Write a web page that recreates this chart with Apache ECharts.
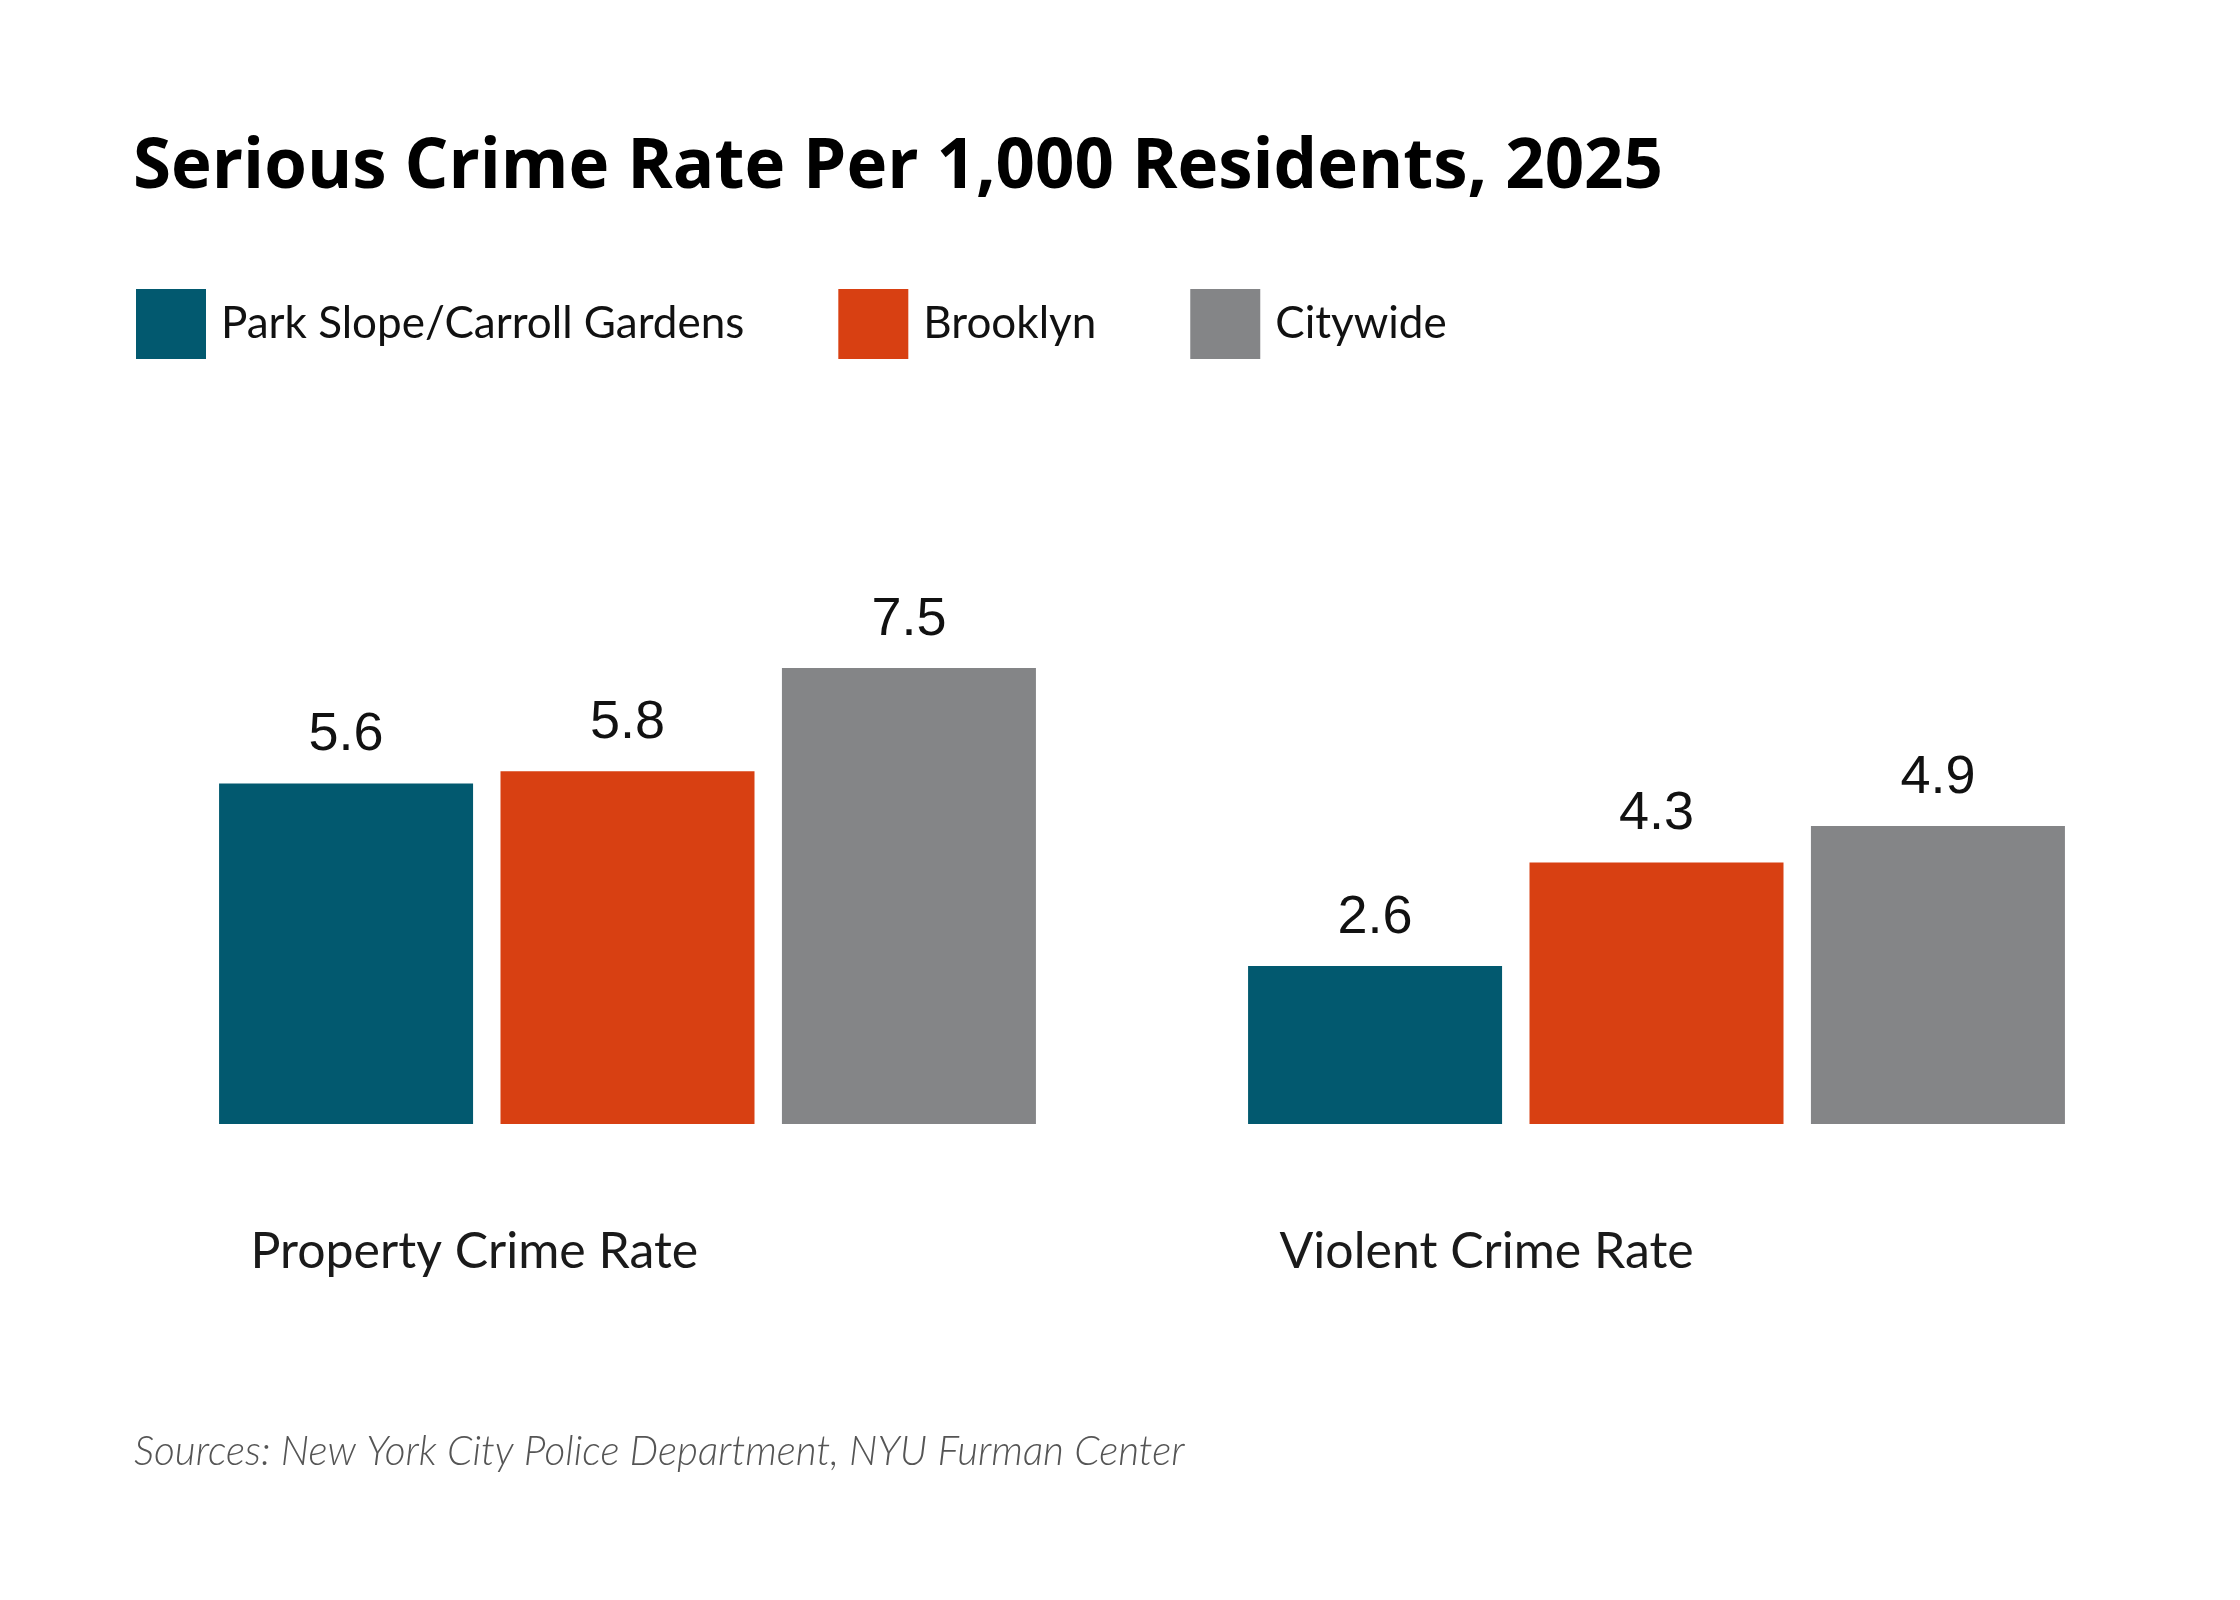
<!doctype html>
<html lang="en">
  <head>
    <meta charset="UTF-8" />
    <title>Serious Crime Rate Per 1,000 Residents, 2025</title>
    <script src="https://cdn.jsdelivr.net/npm/echarts/dist/echarts.min.js"></script>
    <style>
      html, body { margin: 0; padding: 0; background: #fff; }
      #main { width: 2240px; height: 1600px; }
    </style>
  </head>
  <body>
    <div id="main"></div>
    <script>
      // categories and series values
      const categories = ["Property Crime Rate", "Violent Crime Rate"];
      const seriesNames = ["Park Slope/Carroll Gardens", "Brooklyn", "Citywide"];
      const parkSlope = [5.6, 2.6];
      const brooklyn = [5.8, 4.3];
      const citywide = [7.5, 4.9];
      const colors = ["#02596f", "#d84012", "#848587"];

      const chart = echarts.init(document.getElementById("main"));

      const labelStyle = {
        show: true,
        position: "top",
        distance: 21,
        fontFamily: "Liberation Sans",
        fontSize: 54,
        color: "#111",
        formatter: (p) => p.value.toFixed(1),
      };

      const option = {
        backgroundColor: "#fff",
        animation: false,
        title: [
          {
            text: "Serious Crime Rate Per 1,000 Residents, 2025",
            left: 133,
            top: 134,
            padding: 0,
            textStyle: {
              fontFamily: "Open Sans",
              fontWeight: "bold",
              fontSize: 69,
              color: "#000",
            },
          },
          {
            text: "Sources: New York City Police Department, NYU Furman Center",
            left: 134,
            top: 1431,
            padding: 0,
            textStyle: {
              fontFamily: "Lato",
              fontStyle: "italic",
              fontWeight: 300,
              fontSize: 40.5,
              color: "#555",
            },
          },
        ],
        legend: {
          data: seriesNames,
          left: 136,
          top: 289,
          padding: 0,
          icon: "rect",
          itemWidth: 70,
          itemHeight: 70,
          itemGap: 94,
          selectedMode: false,
          textStyle: {
            fontFamily: "Lato",
            fontSize: 44,
            color: "#111",
            padding: [2, 0, 0, 10],
          },
        },
        grid: {
          left: 113,
          width: 2058,
          top: 516,
          height: 608,
          containLabel: false,
        },
        xAxis: {
          type: "category",
          data: categories,
          axisLine: { show: false },
          axisTick: { show: false },
          axisLabel: {
            margin: 103,
            formatter: "{a|{value}}",
            rich: {
              a: {
                width: 754,
                align: "left",
                fontFamily: "Lato",
                fontSize: 50,
                color: "#1a1a1a",
              },
            },
          },
        },
        yAxis: {
          type: "value",
          min: 0,
          max: 10,
          show: false,
          splitLine: { show: false },
        },
        series: [
          { name: seriesNames[0], type: "bar", data: parkSlope, barWidth: 254, barGap: "10.8%", itemStyle: { color: colors[0] }, label: labelStyle },
          { name: seriesNames[1], type: "bar", data: brooklyn, barWidth: 254, barGap: "10.8%", itemStyle: { color: colors[1] }, label: labelStyle },
          { name: seriesNames[2], type: "bar", data: citywide, barWidth: 254, barGap: "10.8%", itemStyle: { color: colors[2] }, label: labelStyle },
        ],
      };

      chart.setOption(option);
    </script>
  </body>
</html>
